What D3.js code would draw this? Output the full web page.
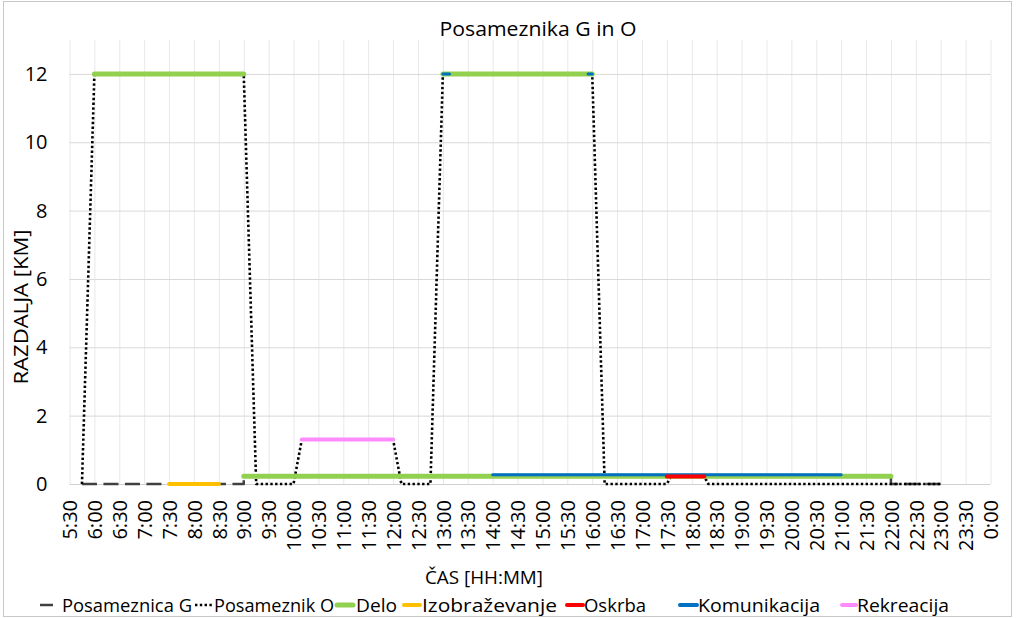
<!DOCTYPE html>
<html>
<head>
<meta charset="utf-8">
<script src="https://cdn.jsdelivr.net/npm/d3@7"></script>
<style>
  html, body { margin: 0; padding: 0; background: #fff; }
  svg { display: block; font-family: "Open Sans", "Noto Sans", sans-serif; }
</style>
</head>
<body>
<svg id="chart" width="1018" height="618"></svg>
<script>
// ---------------- DATA ----------------
const title = "Posameznika G in O";
const yTitle = "RAZDALJA [KM]";
const xTitle = "ČAS [HH:MM]";
const yTicks = [0, 2, 4, 6, 8, 10, 12];
const xTickLabels = ["5:30","6:00","6:30","7:00","7:30","8:00","8:30","9:00","9:30","10:00","10:30","11:00","11:30","12:00","12:30","13:00","13:30","14:00","14:30","15:00","15:30","16:00","16:30","17:00","17:30","18:00","18:30","19:00","19:30","20:00","20:30","21:00","21:30","22:00","22:30","23:00","23:30","0:00"];

// Posameznica G (dashed)
const posameznicaG = [["5:45",0],["9:00",0],["9:00",0.23],["22:00",0.23],["22:00",0],["23:00",0]];
// Posameznik O (dotted)
const posameznikO = [["5:45",0],["6:00",12],["9:00",12],["9:15",0],["10:00",0],["10:10",1.3],["12:00",1.3],["12:10",0],["12:45",0],["13:00",12],["16:00",12],["16:15",0],["17:30",0],["17:35",0.22],["18:15",0.22],["18:20",0],["23:00",0]];
// Activities (null separates segments)
const delo = [["6:00",12],["9:00",12],null,["9:00",0.23],["22:00",0.23],null,["13:00",12],["16:00",12]];
const izobrazevanje = [["7:30",0],["8:30",0]];
const komunikacija = [["14:00",0.27],["21:00",0.27],null,["13:00",12],["13:08",12],null,["15:55",12],["16:00",12]];
const oskrba = [["17:30",0.22],["18:15",0.22]];
const rekreacija = [["10:10",1.3],["12:00",1.3]];

const legendNames = ["Posameznica G","Posameznik O","Delo","Izobraževanje","Oskrba","Komunikacija","Rekreacija"];

// ---------------- LAYOUT ----------------
const W = 1018, H = 618;
const plot = { left: 69.5, right: 990.5, top: 39.75, bottom: 484 };
const colors = { G: "#404040", O: "#000000", Delo: "#92d050", Izob: "#ffc000", Oskrba: "#ff0000", Kom: "#0070c0", Rek: "#ff8cff" };

function toMin(s) {
  const [h, m] = s.split(":").map(Number);
  let v = h * 60 + m;
  if (v < 300) v += 1440; // 0:00 -> 24:00
  return v;
}

const svg = d3.select("#chart");

// outer border
svg.append("rect").attr("x", 3.5).attr("y", 1.5).attr("width", 1008).attr("height", 615)
  .attr("fill", "#fff").attr("stroke", "#c8c8c8").attr("stroke-width", 1);

const x = d3.scaleLinear().domain([toMin("5:30"), toMin("0:00")]).range([plot.left, plot.right]);
const y = d3.scaleLinear().domain([0, 13]).range([plot.bottom, plot.top]);

// vertical gridlines
const xAxis = d3.axisBottom(x)
  .tickValues(xTickLabels.map(toMin))
  .tickSize(-(plot.bottom - plot.top))
  .tickFormat((d, i) => xTickLabels[i]);
const gx = svg.append("g").attr("transform", `translate(0,${plot.bottom})`).call(xAxis);
gx.select(".domain").remove();
gx.selectAll(".tick line").attr("stroke", "#e8e8e8").attr("stroke-width", 1);
gx.selectAll(".tick text")
  .attr("transform", "rotate(-90)")
  .attr("text-anchor", "end")
  .attr("x", -16).attr("y", 0).attr("dy", "0.36em")
  .attr("font-size", 20).attr("fill", "#000")
  .style("font-family", "'Open Sans', sans-serif");

// horizontal gridlines + y labels
const yAxis = d3.axisLeft(y).tickValues(yTicks).tickSize(-(plot.right - plot.left)).tickFormat(d3.format("d"));
const gy = svg.append("g").attr("transform", `translate(${plot.left},0)`).call(yAxis);
gy.select(".domain").remove();
gy.selectAll(".tick line").attr("stroke", d => d === 0 ? "#d0d0d0" : "#d9d9d9").attr("stroke-width", 1);
gy.selectAll(".tick text")
  .attr("x", -22).attr("font-size", 20).attr("fill", "#000")
  .style("font-family", "'Open Sans', sans-serif");

// series
const line = d3.line()
  .defined(d => d !== null)
  .x(d => x(toMin(d[0])))
  .y(d => y(d[1]));

const g = svg.append("g");
function drawSeries(data, color, width, dash, cap) {
  g.append("path").datum(data)
    .attr("d", line)
    .attr("fill", "none")
    .attr("stroke", color)
    .attr("stroke-width", width)
    .attr("stroke-dasharray", dash || null)
    .attr("stroke-linecap", cap || "butt")
    .attr("stroke-linejoin", "round");
}
drawSeries(posameznicaG, colors.G, 2.5, "15,6.5", "butt");
drawSeries(posameznikO, colors.O, 2.6, "2.4,2.4", "butt");
drawSeries(delo, colors.Delo, 5, null, "round");
drawSeries(izobrazevanje, colors.Izob, 4, null, "round");
drawSeries(komunikacija, colors.Kom, 3, null, "round");
drawSeries(oskrba, colors.Oskrba, 4, null, "round");
drawSeries(rekreacija, colors.Rek, 4, null, "round");

// titles
svg.append("text").attr("x", 538).attr("y", 36).attr("text-anchor", "middle")
  .attr("font-size", 20).attr("fill", "#000").attr("textLength", 197).attr("lengthAdjust", "spacingAndGlyphs")
  .text(title);

svg.append("text").attr("transform", "translate(28,307) rotate(-90)").attr("text-anchor", "middle")
  .attr("font-size", 20).attr("fill", "#000").attr("textLength", 155).attr("lengthAdjust", "spacingAndGlyphs")
  .text(yTitle);

svg.append("text").attr("x", 484).attr("y", 584).attr("text-anchor", "middle")
  .attr("font-size", 19).attr("fill", "#000").attr("textLength", 118).attr("lengthAdjust", "spacingAndGlyphs")
  .text(xTitle);

// legend
const legendLayout = [
  { sx: 40, sw: 13, tx: 62, tw: 130, color: colors.G, dash: null, width: 2.5, cap: "butt" },
  { sx: 195, sw: 19, tx: 214, tw: 120, color: colors.O, dash: "2.4,2.4", width: 2.6, cap: "butt" },
  { sx: 337, sw: 16, tx: 356, tw: 41, color: colors.Delo, dash: null, width: 5, cap: "round" },
  { sx: 404, sw: 16, tx: 422, tw: 135, color: colors.Izob, dash: null, width: 4, cap: "round" },
  { sx: 567, sw: 16, tx: 584, tw: 62, color: colors.Oskrba, dash: null, width: 4, cap: "round" },
  { sx: 680, sw: 17, tx: 698, tw: 122, color: colors.Kom, dash: null, width: 4, cap: "round" },
  { sx: 842, sw: 14, tx: 857, tw: 92, color: colors.Rek, dash: null, width: 4, cap: "round" }
];
const legY = 605;
const lg = svg.append("g");
legendNames.forEach((name, i) => {
  const L = legendLayout[i];
  lg.append("line").attr("x1", L.sx).attr("x2", L.sx + L.sw).attr("y1", legY).attr("y2", legY)
    .attr("stroke", L.color).attr("stroke-width", L.width)
    .attr("stroke-dasharray", L.dash).attr("stroke-linecap", L.cap);
  lg.append("text").attr("x", L.tx).attr("y", legY).attr("dy", "0.35em")
    .attr("font-size", 19).attr("fill", "#000")
    .attr("textLength", L.tw).attr("lengthAdjust", "spacingAndGlyphs")
    .text(name);
});
</script>
</body>
</html>
